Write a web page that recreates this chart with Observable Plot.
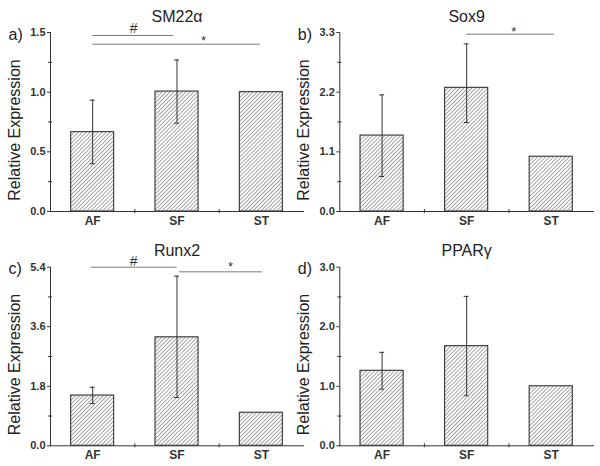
<!DOCTYPE html>
<html>
<head>
<meta charset="utf-8">
<script src="https://cdn.jsdelivr.net/npm/d3@7"></script>
<script src="https://cdn.jsdelivr.net/npm/@observablehq/plot@0.6"></script>
<style>
  html, body { margin: 0; padding: 0; background: #fff; }
  #wrap { position: relative; width: 600px; height: 466px; overflow: hidden; background: #fff; }
  #wrap svg { position: absolute; background: none !important; overflow: visible; }
  #wrap svg text { font-family: "Liberation Sans", Arial, sans-serif; }
</style>
</head>
<body>
<div id="wrap"></div>
<script>
// ---- data ----
const categories = ["AF", "SF", "ST"];

const sm22Values = [0.665, 1.005, 1.0];
const sm22Lo = [0.40, 0.74, null];
const sm22Hi = [0.933, 1.27, null];
const sm22Ticks = [0, 0.5, 1.0, 1.5];

const sox9Values = [1.40, 2.28, 1.01];
const sox9Lo = [0.645, 1.64, null];
const sox9Hi = [2.15, 3.09, null];
const sox9Ticks = [0, 1.1, 2.2, 3.3];

const runx2Values = [1.52, 3.28, 1.0];
const runx2Lo = [1.28, 1.46, null];
const runx2Hi = [1.77, 5.13, null];
const runx2Ticks = [0, 1.8, 3.6, 5.4];

const pparValues = [1.26, 1.674, 1.0];
const pparLo = [0.95, 0.84, null];
const pparHi = [1.57, 2.51, null];
const pparTicks = [0, 1.0, 2.0, 3.0];

// significance annotations (positions in category-index / value units)
const sm22Sig = [
  {x1: 1.0, x2: 1.96, y: 1.475, label: "#", lx: 1.485, ly: 1.531},
  {x1: 1.0, x2: 2.99, y: 1.402, label: "*", lx: 2.315, ly: 1.467}
];
const sox9Sig = [
  {x1: 2.0, x2: 3.04, y: 3.269, label: "*", lx: 2.556, ly: 3.383}
];
const runx2Sig = [
  {x1: 0.983, x2: 2.0, y: 5.4, label: "#", lx: 1.485, ly: 5.57},
  {x1: 2.03, x2: 3.015, y: 5.26, label: "*", lx: 2.635, ly: 5.54}
];
const pparSig = [];

const xDomain = [0.5, 3.5];
const barHalf = 0.255;

const panels = [
  {id: "a", letter: "a)", title: "SM22\u03b1", values: sm22Values, lo: sm22Lo, hi: sm22Hi, ticks: sm22Ticks, sig: sm22Sig,
   left: 0, top: 0, ml: 50, mt: 32, mb: 22},
  {id: "b", letter: "b)", title: "Sox9", values: sox9Values, lo: sox9Lo, hi: sox9Hi, ticks: sox9Ticks, sig: sox9Sig,
   left: 290, top: 0, ml: 49.3, mt: 32, mb: 22},
  {id: "c", letter: "c)", title: "Runx2", values: runx2Values, lo: runx2Lo, hi: runx2Hi, ticks: runx2Ticks, sig: runx2Sig,
   left: 0, top: 233, ml: 50, mt: 33.7, mb: 20.7},
  {id: "d", letter: "d)", title: "PPAR\u03b3", values: pparValues, lo: pparLo, hi: pparHi, ticks: pparTicks, sig: pparSig,
   left: 290, top: 233, ml: 49.3, mt: 33.7, mb: 20.7}
];

const wrap = document.getElementById("wrap");
const ink = "#333";

for (const p of panels) {
  const bars = categories.map((c, k) => ({cat: c, i: k + 1, value: p.values[k], lo: p.lo[k], hi: p.hi[k]}));
  const errs = bars.filter(d => d.lo != null);
  const caps = errs.flatMap(d => [{i: d.i, v: d.lo}, {i: d.i, v: d.hi}]);
  const yMax = p.ticks[p.ticks.length - 1];
  const minor = p.ticks.slice(1).map((t, k) => (t + p.ticks[k]) / 2);
  const xMinor = [1.5, 2.5];
  const fmt = d3.format(".1f");

  const plot = Plot.plot({
    width: 310,
    height: 233,
    marginLeft: p.ml,
    marginRight: 7,
    marginTop: p.mt,
    marginBottom: p.mb,
    style: {background: "none", color: ink, fontFamily: "Liberation Sans, Arial, sans-serif", fontSize: "11px", fontWeight: "bold", overflow: "visible"},
    x: {domain: xDomain, ticks: [1, 2, 3], tickFormat: i => categories[i - 1], tickSize: 0, tickPadding: 5, label: null, line: true},
    y: {domain: [0, yMax], ticks: p.ticks, tickFormat: fmt, tickSize: 3, tickPadding: 2, label: null, line: true},
    marks: [
      Plot.rectY(bars, {x1: d => d.i - barHalf, x2: d => d.i + barHalf, y: "value", fill: `url(#hatch-${p.id})`, stroke: ink, strokeWidth: 1.1}),
      Plot.ruleX(errs, {x: "i", y1: "lo", y2: "hi", stroke: ink, strokeWidth: 1}),
      Plot.ruleY(caps, {y: "v", x1: "i", x2: "i", insetLeft: -2.5, insetRight: -2.5, stroke: ink, strokeWidth: 1}),
      Plot.ruleY(minor, {y: d => d, x1: xDomain[0], x2: xDomain[0], insetLeft: -2, insetRight: -2, stroke: ink}),
      Plot.ruleX(xMinor, {x: d => d, y1: 0, y2: 0, insetTop: -2, insetBottom: -2, stroke: ink}),
      Plot.ruleY(p.sig, {y: "y", x1: "x1", x2: "x2", stroke: "#7a7a7a", strokeWidth: 1}),
      Plot.text(p.sig.filter(s => s.label === "#"), {x: "lx", y: "ly", text: "label", fontSize: 14, fontWeight: "normal", fill: "#333", lineAnchor: "middle"}),
      Plot.text(p.sig.filter(s => s.label === "*"), {x: "lx", y: "ly", text: "label", fontSize: 13, fontWeight: "normal", fill: "#333", lineAnchor: "middle", dy: 4}),
      Plot.text([p.title], {frameAnchor: "top", text: d => d, dy: -11, lineAnchor: "bottom", fontSize: 16, fontWeight: "normal", fill: "#222"}),
      Plot.text([p.letter], {frameAnchor: "top-left", text: d => d, dx: -42, dy: 2, textAnchor: "start", lineAnchor: "middle", fontSize: 16, fontWeight: "normal", fill: "#222"}),
      Plot.text(["Relative Expression"], {frameAnchor: "left", text: d => d, rotate: -90, dx: -36, dy: 8, textAnchor: "middle", lineAnchor: "middle", fontSize: 16, fontWeight: "normal", fill: "#222"})
    ]
  });

  // hatch pattern definition
  const ns = "http://www.w3.org/2000/svg";
  const defs = document.createElementNS(ns, "defs");
  defs.innerHTML = `<pattern id="hatch-${p.id}" patternUnits="userSpaceOnUse" width="2.8" height="2.8" patternTransform="rotate(45)">
      <rect width="2.8" height="2.8" fill="#fff"></rect>
      <line x1="0" y1="0" x2="0" y2="2.8" stroke="#4a4a4a" stroke-width="1"></line>
    </pattern>`;
  plot.insertBefore(defs, plot.firstChild);

  // axis tick label sizes
  plot.querySelectorAll('g[aria-label^="x-axis"] text').forEach(t => t.setAttribute("font-size", "12"));
  plot.querySelectorAll('g[aria-label^="y-axis"] text').forEach(t => t.setAttribute("font-size", "11"));
  plot.querySelectorAll('g[aria-label^="x-axis"], g[aria-label^="y-axis"]').forEach(g => g.setAttribute("font-size", null));

  plot.style.left = p.left + "px";
  plot.style.top = p.top + "px";
  wrap.appendChild(plot);
}
</script>
</body>
</html>
